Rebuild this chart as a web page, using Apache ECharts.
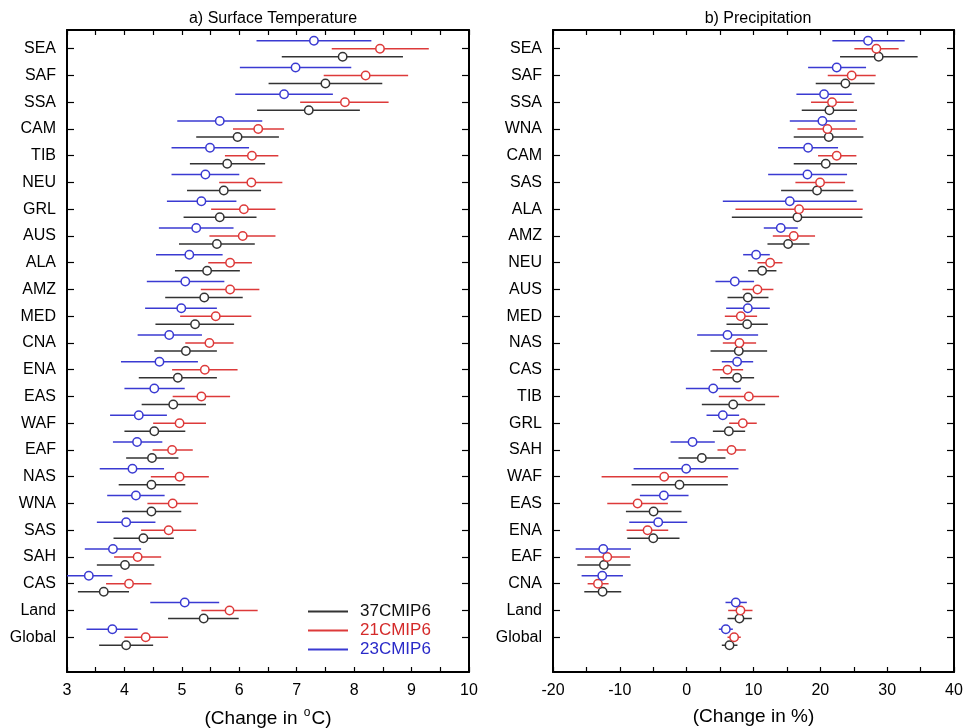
<!DOCTYPE html>
<html>
<head>
<meta charset="utf-8">
<script src="https://cdn.jsdelivr.net/npm/echarts@6/dist/echarts.min.js"></script>
<style>html,body{margin:0;padding:0;background:#fff}#c{width:964px;height:728px}</style>
</head>
<body>
<div id="c"></div>
<script>
// ---- data: each entry is [low, center, high] ----
const tempCats = ['SEA','SAF','SSA','CAM','TIB','NEU','GRL','AUS','ALA','AMZ','MED','CNA','ENA','EAS','WAF','EAF','NAS','WNA','SAS','SAH','CAS','Land','Global'];
const tempBlack = [[6.74,7.80,8.85],[6.51,7.50,8.49],[6.31,7.21,8.10],[5.25,5.97,6.69],[5.14,5.79,6.45],[5.09,5.73,6.38],[5.03,5.66,6.30],[4.95,5.61,6.27],[4.88,5.44,6.01],[4.71,5.39,6.06],[4.54,5.23,5.91],[4.52,5.07,5.61],[4.25,4.93,5.61],[4.30,4.85,5.42],[4.00,4.52,5.06],[4.03,4.48,4.94],[3.90,4.47,5.06],[3.96,4.47,4.99],[3.81,4.33,4.86],[3.52,4.01,4.52],[3.19,3.64,4.08],[4.76,5.38,5.99],[3.56,4.03,4.50]];
const tempRed = [[7.61,8.45,9.30],[7.47,8.20,8.94],[7.06,7.84,8.60],[5.89,6.33,6.78],[5.75,6.22,6.68],[5.65,6.21,6.75],[5.51,6.08,6.63],[5.48,6.06,6.63],[5.46,5.84,6.22],[5.33,5.84,6.35],[4.97,5.59,6.21],[5.06,5.48,5.90],[4.83,5.40,5.97],[4.84,5.34,5.84],[4.50,4.96,5.42],[4.49,4.83,5.19],[4.46,4.96,5.47],[4.40,4.84,5.28],[4.29,4.77,5.25],[3.82,4.23,4.64],[3.68,4.08,4.47],[5.34,5.83,6.32],[4.00,4.37,4.76]];
const tempBlue = [[6.30,7.30,8.30],[6.01,6.98,7.95],[5.93,6.78,7.63],[4.92,5.66,6.40],[4.82,5.49,6.17],[4.82,5.41,6.00],[4.74,5.34,5.95],[4.60,5.25,5.90],[4.55,5.13,5.71],[4.39,5.06,5.74],[4.36,4.99,5.61],[4.23,4.78,5.35],[3.94,4.61,5.28],[4.00,4.52,5.05],[3.75,4.25,4.74],[3.80,4.22,4.66],[3.57,4.14,4.69],[3.70,4.20,4.70],[3.52,4.03,4.54],[3.31,3.80,4.29],[2.95,3.38,3.79],[4.45,5.05,5.65],[3.34,3.79,4.23]];

const precCats = ['SEA','SAF','SSA','WNA','CAM','SAS','ALA','AMZ','NEU','AUS','MED','NAS','CAS','TIB','GRL','SAH','WAF','EAS','ENA','EAF','CNA','Land','Global'];
const precBlack = [[22.95,28.73,34.56],[19.31,23.75,28.13],[17.22,21.36,25.49],[16.02,21.26,26.44],[16.02,20.81,25.49],[14.13,19.51,24.94],[6.76,16.57,26.29],[12.09,15.18,18.37],[9.20,11.29,13.43],[6.11,9.15,12.24],[5.96,9.05,12.14],[3.57,7.80,12.04],[5.01,7.55,10.09],[2.27,6.96,11.74],[3.92,6.31,8.75],[-1.22,2.27,5.81],[-8.24,-1.07,6.16],[-9.09,-4.95,-0.77],[-8.89,-5.00,-1.07],[-16.36,-12.38,-8.39],[-15.32,-12.58,-9.79],[6.11,7.90,9.75],[5.26,6.41,7.60]];
const precRed = [[25.09,28.38,31.72],[21.11,24.69,28.28],[18.61,21.75,24.99],[16.57,21.06,25.49],[19.66,22.45,25.39],[16.27,19.96,23.70],[7.30,16.82,26.34],[12.89,16.02,19.21],[10.59,12.49,14.33],[8.35,10.59,12.98],[5.71,8.10,10.54],[5.41,7.90,10.39],[3.87,6.11,8.45],[4.81,9.30,13.83],[6.36,8.40,10.49],[4.61,6.71,8.85],[-12.73,-3.36,6.16],[-11.88,-7.34,-2.81],[-8.99,-5.85,-2.76],[-15.22,-11.88,-8.49],[-14.82,-13.27,-11.68],[6.21,8.05,9.85],[6.11,7.10,8.10]];
const precBlue = [[21.80,27.14,32.62],[18.17,22.45,26.84],[16.42,20.56,24.69],[15.43,20.31,25.24],[13.68,18.17,22.65],[12.19,18.07,24.00],[5.41,15.43,25.44],[11.54,14.08,16.62],[8.45,10.39,12.44],[4.31,7.20,10.09],[5.91,9.15,12.44],[1.57,6.11,10.69],[5.26,7.55,9.95],[-0.12,3.97,8.10],[2.97,5.41,7.85],[-2.41,0.88,4.21],[-7.94,-0.07,7.75],[-7.00,-3.41,0.28],[-8.59,-4.26,0.08],[-16.61,-12.48,-8.34],[-15.72,-12.63,-9.54],[5.81,7.35,9.00],[4.81,5.86,6.91]];

const groupNames = ['37CMIP6','21CMIP6','23CMIP6'];
const tempXTicks = {min: 3, max: 10, step: 0.5, labelEvery: 1};
const precXTicks = {min: -20, max: 40, step: 5, labelEvery: 10};

// ---- styling ----
const FONT = 'Liberation Sans, Arial, Helvetica, sans-serif';
const COLORS = {'37CMIP6': '#333333', '21CMIP6': '#dd3a3a', '23CMIP6': '#3a3ad2'};
const TEXTCOLORS = {'37CMIP6': '#111111', '21CMIP6': '#d42a2a', '23CMIP6': '#2a2ac8'};
const OFFSETS = {'37CMIP6': 0.3, '21CMIP6': 0, '23CMIP6': -0.3};
const TOP_PAD = 0.7;   // slot offset of the first category from the frame top
const Y_MAX = 24;

const tickPos = n => Array.from({length: n}, (_, i) => TOP_PAD + i);

function makeSeries(name, data, xi, yi) {
  const color = COLORS[name], off = OFFSETS[name];
  return {
    type: 'custom', name: name, xAxisIndex: xi, yAxisIndex: yi, clip: true,
    itemStyle: {color: color},
    data: data.map((d, i) => [d[0], d[1], d[2], i]),
    encode: {x: [0, 1, 2], y: 3},
    renderItem: function (params, api) {
      const y = api.value(3) + TOP_PAD + off;
      const a = api.coord([api.value(0), y]);
      const m = api.coord([api.value(1), y]);
      const b = api.coord([api.value(2), y]);
      return {
        type: 'group',
        children: [
          {type: 'line', shape: {x1: a[0], y1: a[1], x2: b[0], y2: b[1]}, style: {stroke: color, lineWidth: 1.5}},
          {type: 'circle', shape: {cx: m[0], cy: m[1], r: 4.2}, style: {fill: '#fff', stroke: color, lineWidth: 1.5}}
        ]
      };
    }
  };
}

function xAxes(grid, t, name) {
  const common = {
    gridIndex: grid, type: 'value', min: t.min, max: t.max, interval: t.step,
    axisLine: {show: true, onZero: false, lineStyle: {color: '#000', width: 2}},
    axisTick: {show: true, inside: true, length: 5, lineStyle: {color: '#000', width: 1.2}},
    splitLine: {show: false}
  };
  return [
    Object.assign({}, common, {
      position: 'bottom',
      axisLabel: {show: true, margin: 11, fontSize: 16, color: '#000', fontFamily: FONT,
        formatter: v => (Math.abs(v / t.labelEvery - Math.round(v / t.labelEvery)) < 1e-6 ? String(Math.round(v)) : '')},
      name: name, nameLocation: 'middle', nameGap: 35,
      nameTextStyle: {fontSize: 19, color: '#000', fontFamily: FONT,
        rich: {sup: {fontSize: 12, color: '#000', fontFamily: FONT, padding: [0, 1, 12, 1]}}}
    }),
    Object.assign({}, common, {position: 'top', axisLabel: {show: false}})
  ];
}

function yAxes(grid, cats) {
  const common = {
    gridIndex: grid, type: 'value', inverse: true, min: 0, max: Y_MAX,
    axisLine: {show: true, onZero: false, lineStyle: {color: '#000', width: 2}},
    axisTick: {show: true, inside: true, length: 7, customValues: tickPos(cats.length), lineStyle: {color: '#000', width: 1.2}},
    splitLine: {show: false}
  };
  return [
    Object.assign({}, common, {
      position: 'left',
      axisLabel: {show: true, customValues: tickPos(cats.length), margin: 11, fontSize: 16, color: '#000', fontFamily: FONT,
        formatter: v => cats[Math.round(v - TOP_PAD)] || ''}
    }),
    Object.assign({}, common, {position: 'right', axisLabel: {show: false}})
  ];
}

const chart = echarts.init(document.getElementById('c'), null, {renderer: 'canvas'});
chart.setOption({
  backgroundColor: '#fff',
  animation: false,
  textStyle: {fontFamily: FONT},
  title: [
    {text: 'a) Surface Temperature', left: 268, top: 6, textAlign: 'center',
     textStyle: {fontSize: 16, fontWeight: 'normal', color: '#000', fontFamily: FONT}},
    {text: 'b) Precipitation', left: 753, top: 6, textAlign: 'center',
     textStyle: {fontSize: 16, fontWeight: 'normal', color: '#000', fontFamily: FONT}}
  ],
  legend: {
    orient: 'vertical', left: 303, top: 598, icon: 'rect', itemWidth: 40, itemHeight: 2, itemGap: 2,
    textStyle: {fontSize: 17, fontFamily: FONT, padding: [0, 0, 0, 7]},
    data: groupNames.map(n => ({name: n, textStyle: {color: TEXTCOLORS[n]}}))
  },
  grid: [
    {left: 67, top: 30, width: 402, height: 642, outerBoundsMode: 'none', containLabel: false},
    {left: 553, top: 30, width: 401, height: 642, outerBoundsMode: 'none', containLabel: false}
  ],
  xAxis: [].concat(
    xAxes(0, tempXTicks, '(Change in {sup|o}C)'),
    xAxes(1, precXTicks, '(Change in %)')
  ),
  yAxis: [].concat(yAxes(0, tempCats), yAxes(1, precCats)),
  series: [
    makeSeries('37CMIP6', tempBlack, 0, 0),
    makeSeries('21CMIP6', tempRed, 0, 0),
    makeSeries('23CMIP6', tempBlue, 0, 0),
    makeSeries('37CMIP6', precBlack, 2, 2),
    makeSeries('21CMIP6', precRed, 2, 2),
    makeSeries('23CMIP6', precBlue, 2, 2)
  ]
});
</script>
</body>
</html>
